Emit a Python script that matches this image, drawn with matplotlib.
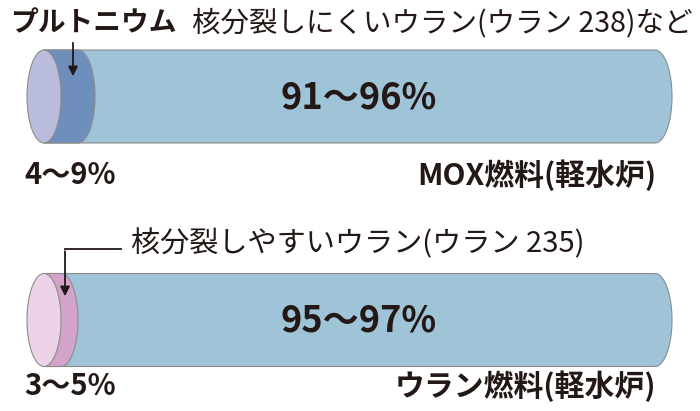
import numpy as np
import matplotlib
matplotlib.use("Agg")
import matplotlib.pyplot as plt
from matplotlib.patches import Polygon, Ellipse

plt.rcParams["font.family"] = ["Noto Sans CJK JP", "DejaVu Sans"]

# fuel compositions (top: MOX, bottom: uranium fuel)
fuel_names = ["MOX燃料(軽水炉)", "ウラン燃料(軽水炉)"]
minor_labels = ["4～9%", "3～5%"]
major_labels = ["91～96%", "95～97%"]
minor_title = "プルトニウム"
major_notes = ["核分裂しにくいウラン(ウラン 238)など", "核分裂しやすいウラン(ウラン 235)"]

TEXT = "#231815"
BODY = "#9fc4d8"
EDGE = "#8c8c8c"
face_colors = ["#b9bcdb", "#ecd3e7"]
band_colors = ["#6e8fbb", "#d4a3c9"]

fig = plt.figure(figsize=(7.0, 4.11), dpi=100)
ax = fig.add_axes([0, 0, 1, 1])
ax.set_xlim(0, 700)
ax.set_ylim(411, 0)
ax.axis("off")

x0, x1 = 44, 655        # centres of left face and right end
a, b = 17, 46.5         # ellipse semi-axes
centres = [96.5, 320]
band_ends = [78, 61]    # right edge of the minor-component band
label_y = [175, 386]


def capsule(xl, xr, yc, color, z):
    t = np.linspace(-np.pi / 2, np.pi / 2, 60)
    arc = np.column_stack([xr + a * np.cos(t), yc + b * np.sin(t)])
    pts = np.vstack([[xl, yc - b], arc, [xl, yc + b]])
    ax.add_patch(Polygon(pts, closed=True, fc=color, ec=EDGE, lw=0.8, zorder=z))


for i, yc in enumerate(centres):
    capsule(x0, x1, yc, BODY, 1)
    capsule(x0, band_ends[i], yc, band_colors[i], 2)
    ax.add_patch(Ellipse((x0, yc), 2 * a, 2 * b, fc=face_colors[i], ec=EDGE, lw=0.8, zorder=3))

    ax.text(359, yc + 1, major_labels[i], ha="center", va="center", fontsize=26,
            fontweight="bold", color=TEXT, zorder=5)
    ax.text(24, label_y[i], minor_labels[i], ha="left", va="center", fontsize=21,
            fontweight="bold", color=TEXT)
    ax.text(656, label_y[i], fuel_names[i], ha="right", va="center", fontsize=21.5,
            fontweight="bold", color=TEXT)

# top annotations
ax.text(10, 23, minor_title, ha="left", va="center", fontsize=20,
        fontweight="bold", color=TEXT)
ax.text(692, 23, major_notes[0], ha="right", va="center", fontsize=20.5, color=TEXT)
ax.annotate("", xy=(73, 79), xytext=(73, 40),
            arrowprops=dict(arrowstyle="-|>", color=TEXT, lw=1.3, mutation_scale=14),
            zorder=6)

# bottom annotation with elbow arrow
ax.text(131, 244, major_notes[1], ha="left", va="center", fontsize=21, color=TEXT)
ax.plot([121, 65], [249, 249], color=TEXT, lw=1.3, zorder=6)
ax.annotate("", xy=(65, 299), xytext=(65, 248.4),
            arrowprops=dict(arrowstyle="-|>", color=TEXT, lw=1.3, mutation_scale=14),
            zorder=6)

fig.savefig("out.png", dpi=100, facecolor="white")
